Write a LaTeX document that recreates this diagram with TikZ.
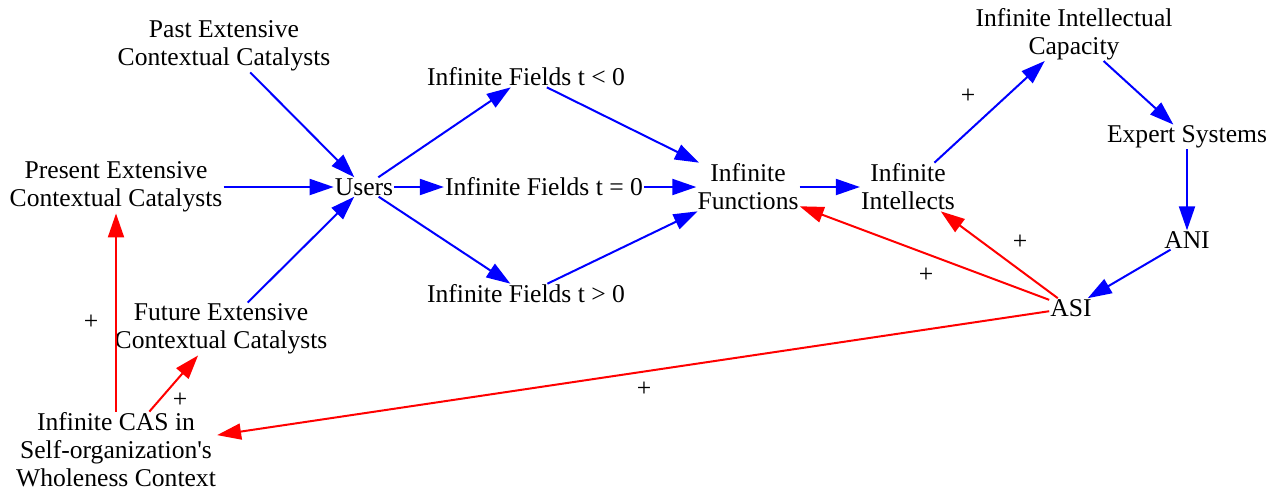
\documentclass[tikz,border=0pt]{standalone}
\usepackage{fontspec}
\setmainfont{Liberation Serif}
\usetikzlibrary{positioning,arrows.meta}

\begin{document}
\begin{tikzpicture}[x=1pt,y=-1pt,
    every node/.style={font=\fontsize{25.6}{28}\selectfont,align=center,inner sep=1pt},
    blueedge/.style={draw=blue,line width=2pt,-{Triangle[length=24pt,width=16pt]}},
    rededge/.style={draw=red,line width=2pt,-{Triangle[length=24pt,width=16pt]}}]
  \useasboundingbox (0,0) rectangle (1281,491);
  % left column
  \node (past) at (224,46) {Past Extensive\\Contextual Catalysts};
  \node (present) at (116,187) {Present Extensive\\Contextual Catalysts};
  \node (future) at (221,329) {Future Extensive\\Contextual Catalysts};
  \node (cas) at (116,450) {Infinite CAS in\\Self-organization\textquotesingle s\\Wholeness Context};
  \node (users) at (364,187) {Users};
  % fields
  \node (fneg) at (526,77) {Infinite Fields t < 0};
  \node (fzero) at (544,187) {Infinite Fields t = 0};
  \node (fpos) at (526,294) {Infinite Fields t > 0};
  \node (func) at (748,187) {Infinite\\Functions};
  \node (intel) at (908,187) {Infinite\\Intellects};
  % right loop
  \node (cap) at (1074,34) {Infinite Intellectual\\Capacity};
  \node (expert) at (1187,137) {Expert Systems};
  \node (ani) at (1187,240) {ANI};
  \node (asi) at (1071,308) {ASI};
  % polarity signs
  \node (p1) at (968,96) {+};
  \node (p2) at (1020,242) {+};
  \node (p3) at (926,275) {+};
  \node (p4) at (644,389) {+};
  \node (p5) at (91,322) {+};
  \node (p6) at (180,400) {+};

  \draw[blueedge] (past) -- (users);
  \draw[blueedge] (present) -- (users);
  \draw[blueedge] (future) -- (users);
  \draw[blueedge] (users) -- (fneg);
  \draw[blueedge] (users) -- (fzero);
  \draw[blueedge] (users) -- (fpos);
  \draw[blueedge] (fneg) -- (func);
  \draw[blueedge] (fzero) -- (func);
  \draw[blueedge] (fpos) -- (func);
  \draw[blueedge] (func) -- (intel);
  \draw[blueedge] (intel) -- (cap);
  \draw[blueedge] (cap) -- (expert);
  \draw[blueedge] (expert) -- (ani);
  \draw[blueedge] (ani) -- (asi);
  \draw[rededge] (asi) -- (func);
  \draw[rededge] (asi) -- (intel);
  \draw[rededge] (asi) -- (cas);
  \draw[rededge] (cas.north) -- (present.south);
  \draw[rededge] (cas) -- (future);
\end{tikzpicture}
\end{document}
